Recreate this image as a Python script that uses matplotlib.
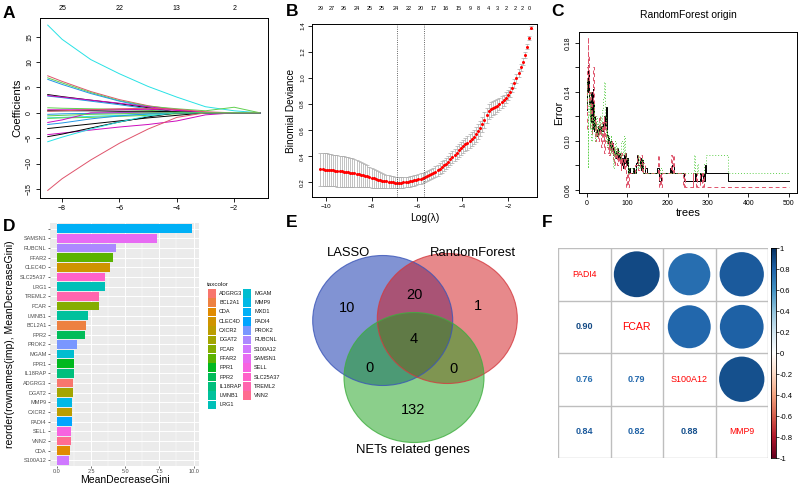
import numpy as np
import matplotlib
matplotlib.use('Agg')
import matplotlib.pyplot as plt
from matplotlib.patches import Ellipse, Circle, Rectangle
from matplotlib.colors import LinearSegmentedColormap

plt.rcParams['font.family'] = ['Liberation Sans', 'DejaVu Sans']

# ---------------- data ----------------
# A: lasso coefficient paths
A_loglam = [-8.5, -8.0, -7.0, -6.0, -5.0, -4.0, -3.0, -2.0, -1.1]
A_coefs = [
    [17.3, 14.5, 10.5, 7.7, 5.2, 3.1, 1.2, 0.4, 0.0],
    [7.3, 6.2, 4.2, 2.6, 1.4, 0.6, 0.0, 0.0, 0.0],
    [6.9, 5.9, 4.0, 2.4, 1.3, 0.8, 0.4, 1.1, 0.0],
    [6.6, 5.6, 3.8, 2.3, 1.1, 0.1, 0.0, 0.0, 0.0],
    [3.6, 3.2, 2.5, 1.8, 1.0, 0.1, 0.0, 0.0, 0.0],
    [3.3, 3.0, 2.3, 1.6, 0.8, 0.0, 0.0, 0.0, 0.0],
    [3.4, 3.1, 2.5, 1.9, 1.2, 0.5, 0.0, 0.0, 0.0],
    [1.0, 0.9, 0.8, 0.7, 0.5, 0.2, 0.0, 0.0, 0.0],
    [0.6, 0.6, 0.6, 0.6, 0.7, 0.5, 0.1, 0.0, 0.0],
    [0.4, 0.4, 0.4, 0.3, 0.3, 0.2, 0.0, 0.0, 0.0],
    [0.3, 0.4, 0.6, 0.8, 0.9, 0.7, 0.2, 0.0, 0.0],
    [-1.0, -0.9, -0.7, -0.5, -0.3, 0.0, 0.0, 0.0, 0.0],
    [-1.1, -1.0, -0.9, -0.7, -0.5, -0.2, 0.0, 0.0, 0.0],
    [-0.3, -0.2, -0.1, 0.0, 0.0, 0.0, 0.0, 0.0, 0.0],
    [-1.9, -1.4, 0.0, 0.0, 0.0, 0.0, 0.0, 0.0, 0.0],
    [-2.3, -2.0, -1.2, -0.6, -0.2, 0.0, 0.0, 0.0, 0.0],
    [-3.1, -2.8, -2.2, -1.6, -1.0, -0.5, 0.0, 0.0, 0.0],
    [-4.3, -4.0, -3.4, -2.8, -2.3, -1.6, -0.4, 0.0, 0.0],
    [-4.7, -4.2, -3.0, -1.8, -0.8, 0.0, 0.0, 0.0, 0.0],
    [-5.7, -4.8, -3.2, -1.8, -0.6, 0.0, 0.0, 0.0, 0.0],
    [-15.3, -13.0, -9.3, -6.0, -3.2, -0.9, 0.0, 0.0, 0.0],
    [-0.6, -0.5, -0.3, -0.2, 0.0, 0.0, 0.0, 0.0, 0.0],
]
A_colors = ['cyan', 'red', 'green', 'blue', 'black', 'blue', 'magenta', 'green',
            'magenta', 'black', 'red', 'cyan', 'green', 'blue', 'magenta', 'blue',
            'black', 'magenta', 'black', 'cyan', 'red', 'green']
A_top_labels = ['25', '22', '13', '2']

# B: cross-validation curve
B_cvm = [
    0.300, 0.299, 0.298, 0.297, 0.295, 0.293, 0.291, 0.289, 0.287, 0.285,
    0.283, 0.281, 0.279, 0.277, 0.275, 0.273, 0.270, 0.267, 0.263, 0.259,
    0.255, 0.250, 0.245, 0.240, 0.235, 0.230, 0.225, 0.221, 0.217, 0.213,
    0.209, 0.206, 0.203, 0.201, 0.199, 0.198, 0.197, 0.197, 0.198, 0.199,
    0.201, 0.204, 0.207, 0.211, 0.215, 0.219, 0.224, 0.229, 0.235, 0.241,
    0.247, 0.254, 0.262, 0.271, 0.281, 0.292, 0.304, 0.317, 0.330, 0.344,
    0.359, 0.375, 0.392, 0.410, 0.428, 0.446, 0.463, 0.478, 0.491, 0.503,
    0.516, 0.531, 0.548, 0.567, 0.590, 0.616, 0.645, 0.676, 0.713, 0.745,
    0.760, 0.770, 0.779, 0.789, 0.800, 0.813, 0.829, 0.848, 0.870, 0.896,
    0.926, 0.960, 0.997, 1.038, 1.082, 1.127, 1.176, 1.240, 1.310, 1.385,
]
B_cvsd = [
    0.128, 0.127, 0.126, 0.125, 0.124, 0.123, 0.122, 0.121, 0.120, 0.119,
    0.118, 0.117, 0.116, 0.115, 0.113, 0.111, 0.108, 0.104, 0.100, 0.096,
    0.092, 0.088, 0.084, 0.080, 0.076, 0.072, 0.068, 0.064, 0.061, 0.058,
    0.055, 0.052, 0.050, 0.048, 0.046, 0.045, 0.044, 0.043, 0.042, 0.041,
    0.041, 0.040, 0.040, 0.040, 0.040, 0.040, 0.040, 0.040, 0.040, 0.040,
    0.040, 0.040, 0.040, 0.041, 0.041, 0.042, 0.042, 0.043, 0.043, 0.044,
    0.045, 0.046, 0.047, 0.048, 0.049, 0.050, 0.050, 0.050, 0.051, 0.052,
    0.053, 0.054, 0.055, 0.056, 0.057, 0.058, 0.059, 0.060, 0.060, 0.058,
    0.056, 0.054, 0.052, 0.050, 0.048, 0.046, 0.044, 0.042, 0.040, 0.038,
    0.036, 0.034, 0.032, 0.030, 0.027, 0.024, 0.021, 0.018, 0.015, 0.012,
]
B_loglam = np.linspace(-10.26, -0.96, len(B_cvm))
B_lambda_min = -6.9
B_lambda_1se = -5.7
B_top_at = [-10.23, -9.74, -9.24, -8.67, -8.09, -7.55, -6.93, -6.37, -5.83, -5.27,
            -4.73, -4.15, -3.66, -3.28, -2.86, -2.45, -2.06, -1.69, -1.35, -1.05]
B_top_labels = ['29', '27', '26', '24', '25', '25', '24', '22', '20', '17',
                '16', '15', '9', '8', '4', '3', '2', '2', '2', '0']

# C: random forest error vs trees
C_oob_trees = [1, 2, 3, 4, 5, 6, 7, 8, 9, 10, 11, 12, 13, 14, 15, 16, 17, 18, 19, 20,
               22, 24, 26, 28, 30, 32, 34, 36, 38, 40, 42, 44, 46, 48, 50, 52, 54, 56,
               58, 60, 62, 64, 66, 68, 70, 72, 74, 76, 78, 80, 82, 84, 86, 88, 90, 92,
               94, 96, 98, 100, 102, 104, 106, 115, 118, 122, 125, 128, 131, 134, 137,
               140, 145, 148, 175, 178, 180, 183, 205, 208, 212, 215, 240, 262, 264,
               268, 270, 280, 283, 287, 290, 293, 295, 350, 500]
C_oob_err = [0.125, 0.150, 0.162, 0.140, 0.155, 0.130, 0.120, 0.135, 0.125, 0.115,
             0.140, 0.128, 0.120, 0.110, 0.142, 0.130, 0.118, 0.108, 0.120, 0.112,
             0.105, 0.110, 0.104, 0.112, 0.108, 0.113, 0.106, 0.112, 0.108, 0.115,
             0.110, 0.120, 0.112, 0.128, 0.105, 0.098, 0.102, 0.094, 0.100, 0.092,
             0.098, 0.088, 0.095, 0.090, 0.086, 0.092, 0.088, 0.094, 0.086, 0.090,
             0.082, 0.088, 0.080, 0.086, 0.078, 0.088, 0.082, 0.090, 0.080, 0.086,
             0.074, 0.078, 0.074, 0.078, 0.074, 0.082, 0.088, 0.080, 0.086, 0.076,
             0.084, 0.074, 0.078, 0.074, 0.078, 0.074, 0.067, 0.074, 0.078, 0.074,
             0.080, 0.074, 0.067, 0.071, 0.067, 0.074, 0.067, 0.074, 0.067, 0.074,
             0.067, 0.080, 0.074, 0.067, 0.067]
C_c1_trees = [1, 2, 3, 4, 5, 6, 7, 8, 10, 12, 14, 16, 18, 20, 22, 24, 26, 28, 30, 32,
              34, 36, 38, 40, 42, 44, 46, 48, 50, 52, 54, 56, 58, 60, 62, 64, 66, 68,
              70, 72, 74, 76, 78, 80, 82, 84, 86, 88, 90, 92, 94, 96, 98, 100, 102,
              104, 120, 124, 128, 132, 136, 140, 144, 176, 178, 182, 184, 186, 208,
              211, 214, 217, 238, 241, 244, 262, 264, 270, 272, 280, 284, 288, 291, 500]
C_c1_err = [0.110, 0.160, 0.185, 0.150, 0.170, 0.130, 0.110, 0.140, 0.120, 0.105,
            0.130, 0.160, 0.120, 0.100, 0.115, 0.105, 0.110, 0.100, 0.120, 0.105,
            0.110, 0.095, 0.115, 0.100, 0.120, 0.090, 0.115, 0.100, 0.095, 0.090,
            0.100, 0.088, 0.098, 0.090, 0.100, 0.085, 0.095, 0.080, 0.090, 0.085,
            0.095, 0.080, 0.090, 0.082, 0.088, 0.076, 0.090, 0.080, 0.085, 0.076,
            0.090, 0.080, 0.062, 0.074, 0.062, 0.074, 0.080, 0.088, 0.076, 0.088,
            0.074, 0.082, 0.074, 0.088, 0.062, 0.074, 0.062, 0.074, 0.088, 0.074,
            0.088, 0.074, 0.062, 0.074, 0.062, 0.074, 0.062, 0.074, 0.062, 0.074,
            0.062, 0.074, 0.062, 0.062]
C_c2_trees = [1, 2, 3, 4, 5, 7, 9, 11, 13, 15, 17, 19, 21, 23, 25, 27, 29, 31, 33, 35,
              37, 39, 41, 43, 45, 47, 49, 51, 53, 55, 57, 59, 61, 63, 65, 67, 69, 71,
              73, 75, 77, 80, 83, 86, 89, 92, 95, 98, 101, 104, 115, 122, 126, 130,
              135, 140, 178, 182, 185, 262, 265, 268, 272, 276, 290, 294, 350, 500]
C_c2_err = [0.150, 0.130, 0.078, 0.120, 0.140, 0.110, 0.130, 0.100, 0.120, 0.110,
            0.130, 0.115, 0.100, 0.120, 0.110, 0.105, 0.115, 0.110, 0.120, 0.105,
            0.115, 0.125, 0.135, 0.148, 0.120, 0.100, 0.110, 0.095, 0.105, 0.100,
            0.090, 0.105, 0.095, 0.090, 0.078, 0.095, 0.088, 0.100, 0.088, 0.095,
            0.088, 0.092, 0.085, 0.100, 0.088, 0.104, 0.090, 0.085, 0.074, 0.078,
            0.074, 0.078, 0.088, 0.078, 0.085, 0.074, 0.074, 0.078, 0.074, 0.074,
            0.088, 0.074, 0.081, 0.074, 0.081, 0.088, 0.074, 0.074]

# D: variable importance (top to bottom)
D_genes = ['MXD1', 'SAMSN1', 'RUBCNL', 'FFAR2', 'CLEC4D', 'SLC25A37', 'LRG1', 'TREML2',
           'FCAR', 'LMNB1', 'BCL2A1', 'FPR2', 'PROK2', 'MGAM', 'FPR1', 'IL18RAP',
           'ADGRG3', 'DGAT2', 'MMP9', 'CXCR2', 'PADI4', 'SELL', 'VNN2', 'CDA', 'S100A12']
D_gini = [9.9, 7.35, 4.34, 4.13, 3.9, 3.52, 3.5, 3.1, 3.06, 2.28, 2.16, 2.04, 1.47,
          1.28, 1.26, 1.23, 1.21, 1.2, 1.13, 1.08, 1.08, 1.05, 1.05, 0.97, 0.93]
D_ticks = [0.0, 2.5, 5.0, 7.5, 10.0]

# E: Venn
E_sets = ['LASSO', 'RandomForest', 'NETs related genes']
E_counts = [10, 20, 1, 4, 0, 0, 132]   # L, L&R, R, all, L&N, R&N, N

# F: correlation matrix
F_genes = ['PADI4', 'FCAR', 'S100A12', 'MMP9']
F_corr = [[1.00, 0.90, 0.76, 0.84],
          [0.90, 1.00, 0.79, 0.82],
          [0.76, 0.79, 1.00, 0.88],
          [0.84, 0.82, 0.88, 1.00]]

# ---------------- helpers ----------------
W, H = 800, 486
fig = plt.figure(figsize=(8, 4.86), dpi=100)

R_PAL = {'black': '#000000', 'red': '#DF536B', 'green': '#61D04F',
         'blue': '#2297E6', 'cyan': '#28E2E5', 'magenta': '#CD0BBC'}


def px_axes(l, t, r, b):
    return fig.add_axes([l / W, 1 - b / H, (r - l) / W, (b - t) / H])


def r_axes(ax, size=5):
    for s in ax.spines.values():
        s.set_linewidth(0.7)
    ax.tick_params(length=3, width=0.6, labelsize=size, pad=2)
    ax.tick_params(axis='y', labelrotation=90)
    for t in ax.get_yticklabels():
        t.set_va('center')


def hue_pal(n, c=100, l=65):
    # ggplot2 default hue palette (polar LUV -> sRGB)
    hs = np.linspace(15, 375, n + 1)[:n]
    Xn, Yn, Zn = 0.95047, 1.0, 1.08883
    un = 4 * Xn / (Xn + 15 * Yn + 3 * Zn)
    vn = 9 * Yn / (Xn + 15 * Yn + 3 * Zn)
    M = np.array([[3.240479, -1.537150, -0.498535],
                  [-0.969256, 1.875992, 0.041556],
                  [0.055648, -0.204043, 1.057311]])
    out = []
    for h in hs:
        U = c * np.cos(np.deg2rad(h))
        V = c * np.sin(np.deg2rad(h))
        Y = ((l + 16) / 116) ** 3
        u = U / (13 * l) + un
        v = V / (13 * l) + vn
        X = Y * 9 * u / (4 * v)
        Z = Y * (12 - 3 * u - 20 * v) / (4 * v)
        rgb = M @ np.array([X, Y, Z])
        rgb = np.where(rgb <= 0.0031308, 12.92 * rgb, 1.055 * np.abs(rgb) ** (1 / 2.4) - 0.055)
        out.append(tuple(np.clip(rgb, 0, 1)))
    return out

# ---------------- A ----------------
ax = px_axes(40, 18, 268, 198)
for row, c in zip(A_coefs, A_colors):
    ax.plot(A_loglam, row, color=R_PAL[c], lw=0.7)
ax.set_xlim(-8.77, -0.82)
ax.set_ylim(-16.8, 18.7)
ax.set_xticks([-8, -6, -4, -2])
ax.set_yticks([-15, -10, -5, 0, 5, 10, 15])
r_axes(ax)
ax.set_ylabel('Coefficients', fontsize=8, labelpad=3)
top = ax.secondary_xaxis('top')
top.set_xticks([-8, -6, -4, -2], labels=A_top_labels)
top.tick_params(length=0, labelsize=5, pad=4)
top.spines['top'].set_visible(False)

# ---------------- B ----------------
ax = px_axes(312, 24, 537, 197)
ax.errorbar(B_loglam, B_cvm, yerr=B_cvsd, fmt='none', ecolor='#A9A9A9',
            elinewidth=0.5, capsize=1.3, capthick=0.5)
ax.plot(B_loglam, B_cvm, 'o', color='red', ms=2.2, mew=0)
ax.axvline(B_lambda_min, color='#333333', ls=':', lw=0.6)
ax.axvline(B_lambda_1se, color='#333333', ls=':', lw=0.6)
ax.set_xlim(-10.63, -0.71)
ax.set_ylim(0.087, 1.415)
ax.set_xticks([-10, -8, -6, -4, -2])
ax.set_yticks([0.2, 0.4, 0.6, 0.8, 1.0, 1.2, 1.4])
ax.set_yticklabels(['0.2', '0.4', '0.6', '0.8', '1.0', '1.2', '1.4'])
r_axes(ax, size=4.5)
ax.set_ylabel('Binomial Deviance', fontsize=7.3, labelpad=3)
ax.set_xlabel('Log(λ)', fontsize=7.5, labelpad=3)
top = ax.secondary_xaxis('top')
top.set_xticks(B_top_at, labels=B_top_labels)
top.tick_params(length=0, labelsize=4, pad=9)
top.spines['top'].set_visible(False)

# ---------------- C ----------------
ax = px_axes(579, 32, 797, 193)
ax.plot(C_oob_trees, C_oob_err, color='black', lw=0.7, drawstyle='steps-post')
ax.plot(C_c1_trees, C_c1_err, color=R_PAL['red'], lw=0.7, ls=(0, (4, 3)), drawstyle='steps-post')
ax.plot(C_c2_trees, C_c2_err, color=R_PAL['green'], lw=0.7, ls=(0, (1, 2)), drawstyle='steps-post')
ax.set_xlim(-19, 520)
ax.set_ylim(0.0573, 0.189)
ax.set_xticks([0, 100, 200, 300, 400, 500])
ax.set_yticks([0.06, 0.08, 0.10, 0.12, 0.14, 0.16, 0.18])
ax.set_yticklabels(['0.06', '', '0.10', '', '0.14', '', '0.18'])
r_axes(ax)
ax.set_xlabel('trees', fontsize=8, labelpad=1)
ax.set_ylabel('Error', fontsize=7.8, labelpad=1)
ax.set_title('RandomForest origin', fontsize=7.5, pad=10)

# ---------------- D ----------------
ax = px_axes(50, 223, 199, 466)
alpha_order = sorted(D_genes)
pal = hue_pal(len(alpha_order))
gene_col = {g: pal[i] for i, g in enumerate(alpha_order)}
n = len(D_genes)
ypos = np.arange(n)[::-1]
ax.barh(ypos, D_gini, height=0.9, color=[gene_col[g] for g in D_genes], zorder=2)
gmax = max(D_gini)
ax.set_xlim(-0.05 * gmax, 1.05 * gmax)
ax.set_ylim(-0.6, n - 0.4)
ax.set_facecolor('#EBEBEB')
for s in ax.spines.values():
    s.set_visible(False)
ax.set_xticks(D_ticks)
ax.set_xticklabels(['0.0', '2.5', '5.0', '7.5', '10.0'])
ax.set_xticks([1.25, 3.75, 6.25, 8.75], minor=True)
ax.set_yticks(ypos)
ax.set_yticklabels([''] + D_genes[1:])
ax.grid(which='major', color='white', lw=0.7, zorder=0)
ax.grid(which='minor', axis='x', color='white', lw=0.35, zorder=0)
ax.set_axisbelow(True)
ax.tick_params(which='major', length=1.5, width=0.5, color='#333333', labelsize=4,
               labelcolor='#4D4D4D', pad=1)
ax.tick_params(which='minor', length=0)
ax.set_xlabel('MeanDecreaseGini', fontsize=7.5)
ax.xaxis.set_label_coords(0.5, -0.035)
ax.set_ylabel('reorder(rownames(imp), MeanDecreaseGini)', fontsize=7.5)
ax.yaxis.set_label_coords(-0.235, 0.5)

# ---------------- F ----------------
cmap = LinearSegmentedColormap.from_list('corrRdBu', [
    '#67001F', '#B2182B', '#D6604D', '#F4A582', '#FDDBC7', '#FFFFFF',
    '#D1E5F0', '#92C5DE', '#4393C3', '#2166AC', '#053061'])
ax = px_axes(558, 248, 768, 458)
k = len(F_genes)
ax.set_xlim(0, k)
ax.set_ylim(k, 0)
ax.axis('off')
for i in range(k + 1):
    ax.plot([0, k], [i, i], color='#BEBEBE', lw=1.0)
    ax.plot([i, i], [0, k], color='#BEBEBE', lw=1.0)
diag_sizes = [6.2, 7.6, 6.5, 6.2]
for i in range(k):
    for j in range(k):
        r = F_corr[i][j]
        col = cmap((r + 1) / 2)
        if i == j:
            ax.text(j + 0.5, i + 0.5, F_genes[i], color='red', fontsize=diag_sizes[i],
                    ha='center', va='center')
        elif j > i:
            ax.add_patch(Circle((j + 0.5, i + 0.5), 0.46 * np.sqrt(abs(r)), color=col, lw=0))
        else:
            ax.text(j + 0.5, i + 0.5, f'{r:.2f}', color=col, fontsize=6.5,
                    fontweight='bold', ha='center', va='center')

cax = px_axes(771, 248, 776, 458)
grad = np.linspace(1, -1, 200).reshape(-1, 1)
cax.imshow(grad, cmap=cmap, vmin=-1, vmax=1, aspect='auto', extent=[0, 1, -1, 1])
cax.set_xticks([])
cb_ticks = [1, 0.8, 0.6, 0.4, 0.2, 0, -0.2, -0.4, -0.6, -0.8, -1]
cax.yaxis.tick_right()
cax.set_yticks(cb_ticks)
cax.set_yticklabels([f'{t:g}'.replace('−', '-') for t in cb_ticks])
cax.tick_params(axis='y', length=2, width=0.5, labelsize=5.5, pad=0.5)
for s in cax.spines.values():
    s.set_linewidth(0.6)

# ---------------- overlay: letters, legend, Venn ----------------
ov = fig.add_axes([0, 0, 1, 1])
ov.set_xlim(0, W)
ov.set_ylim(H, 0)
ov.axis('off')
ov.patch.set_alpha(0)

for lab, x, y in [('A', 9, 13), ('B', 292, 11), ('C', 558, 12),
                  ('D', 9, 226), ('E', 292, 222), ('F', 547, 222)]:
    ov.text(x, y, lab, fontsize=12.5, fontweight='bold', ha='center', va='center')

# D legend
ov.text(207, 284, 'taxcolor', fontsize=4.5, ha='left', va='center', color='#1A1A1A')
for i, g in enumerate(alpha_order):
    cx = 207.7 + (i // 13) * 35
    cy = 289 + (i % 13) * 9.3
    ov.add_patch(Rectangle((cx, cy), 8.6, 8.6, facecolor=gene_col[g], edgecolor='none'))
    ov.text(cx + 11.5, cy + 4.3, g, fontsize=4, ha='left', va='center', color='#1A1A1A')

# E Venn
venn_fill = ['#0529A9', '#D11519', '#19A119']
venn_edge = ['#3a55b8', '#d43a3f', '#3fae3f']
venn_centers = [(382.7, 320.5), (447.3, 318.5), (414, 377.5)]
for (cx, cy), fc, ec in zip(venn_centers, venn_fill, venn_edge):
    ov.add_patch(Ellipse((cx, cy), 140, 130, facecolor=fc, alpha=0.5, edgecolor='none'))
for (cx, cy), fc, ec in zip(venn_centers, venn_fill, venn_edge):
    ov.add_patch(Ellipse((cx, cy), 140, 130, facecolor='none', edgecolor=ec, lw=0.8, alpha=0.8))
set_pos = [(349, 253), (473, 253), (413, 450)]
for name, (x, y) in zip(E_sets, set_pos):
    ov.text(x, y, name, fontsize=9.4, ha='center', va='center')
count_pos = [(347, 308), (414, 295), (478, 306), (414, 339), (369, 368), (453, 369), (413, 410)]
for cnt, (x, y) in zip(E_counts, count_pos):
    ov.text(x, y, str(cnt), fontsize=10.5, ha='center', va='center')

fig.savefig('out.png', dpi=100)
